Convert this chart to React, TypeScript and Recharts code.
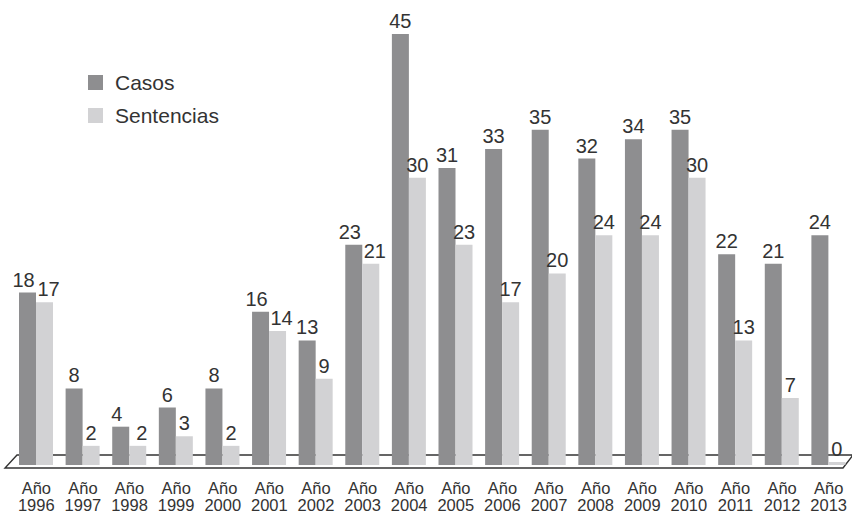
import { Bar, BarChart, LabelList, Legend, XAxis, YAxis } from "recharts";

const years = ["1996", "1997", "1998", "1999", "2000", "2001", "2002", "2003", "2004", "2005", "2006", "2007", "2008", "2009", "2010", "2011", "2012", "2013"];
const casos = [18, 8, 4, 6, 8, 16, 13, 23, 45, 31, 33, 35, 32, 34, 35, 22, 21, 24];
const sentencias = [17, 2, 2, 3, 2, 14, 9, 21, 30, 23, 17, 20, 24, 24, 30, 13, 7, 0];

const data = years.map((y, i) => ({ year: y, casos: casos[i], sentencias: sentencias[i] }));

const W = 852;
const H = 513;
const CASOS = "#8e8e90";
const SENT = "#d2d2d4";
const TEXT = "#333333";
const FONT = "'Liberation Sans', Arial, sans-serif";

function YearTick(props: any) {
	const { x, y, payload } = props;
	return (
		<text x={x} y={y} textAnchor="middle" fill={TEXT} fontSize={16.5} fontFamily={FONT}>
			<tspan x={x} dy={29}>Año</tspan>
			<tspan x={x} dy={17}>{payload.value}</tspan>
		</text>
	);
}

// labels of two close values get pushed apart a little, like in the original
function makeLabel(side: number) {
	return function ValueLabel(props: any) {
		const { x, y, width, value, index } = props;
		const close = Math.abs(casos[index] - sentencias[index]) <= 2;
		const dx = close ? side * 4 : 0;
		return (
			<text x={x + width / 2 + dx} y={y - 6} textAnchor="middle" fill={TEXT} fontSize={20} fontFamily={FONT}>
				{value}
			</text>
		);
	};
}

function LegendBox() {
	const items = [
		{ label: "Casos", color: CASOS },
		{ label: "Sentencias", color: SENT },
	];
	return (
		<div style={{ fontFamily: FONT, fontSize: 21, color: TEXT }}>
			{items.map((it) => (
				<div key={it.label} style={{ display: "flex", alignItems: "center", height: 33 }}>
					<span style={{ width: 15, height: 15, background: it.color, marginRight: 12, display: "inline-block" }} />
					{it.label}
				</div>
			))}
		</div>
	);
}

export default function App() {
	return (
		<div style={{ position: "relative", width: W, height: H, background: "#fff" }}>
			<style>{"body{margin:0}"}</style>
			<svg width={W} height={H} style={{ position: "absolute", left: 0, top: 0 }}>
				<polygon points="17,455 853,455 843,468 5,468" fill="none" stroke={TEXT} strokeWidth={1.4} />
			</svg>
			<div style={{ position: "absolute", left: 0, top: 0 }}>
				<BarChart
					width={W}
					height={H}
					data={data}
					margin={{ top: 34, right: 0, left: 13, bottom: 0 }}
					barGap={0}
					barSize={17}
				>
					<XAxis
						dataKey="year"
						axisLine={false}
						tickLine={false}
						tickSize={0}
						tickMargin={0}
						height={48}
						interval={0}
						tick={<YearTick />}
					/>
					<YAxis hide domain={[0, 45]} />
					<Legend
						layout="vertical"
						align="center"
						verticalAlign="middle"
						wrapperStyle={{ position: "absolute", left: 88, top: 66, width: 200 }}
						content={<LegendBox />}
					/>
					<Bar dataKey="casos" name="Casos" fill={CASOS} isAnimationActive={false}>
						<LabelList dataKey="casos" content={makeLabel(-1)} />
					</Bar>
					<Bar dataKey="sentencias" name="Sentencias" fill={SENT} minPointSize={3} isAnimationActive={false}>
						<LabelList dataKey="sentencias" content={makeLabel(1)} />
					</Bar>
				</BarChart>
			</div>
		</div>
	);
}
